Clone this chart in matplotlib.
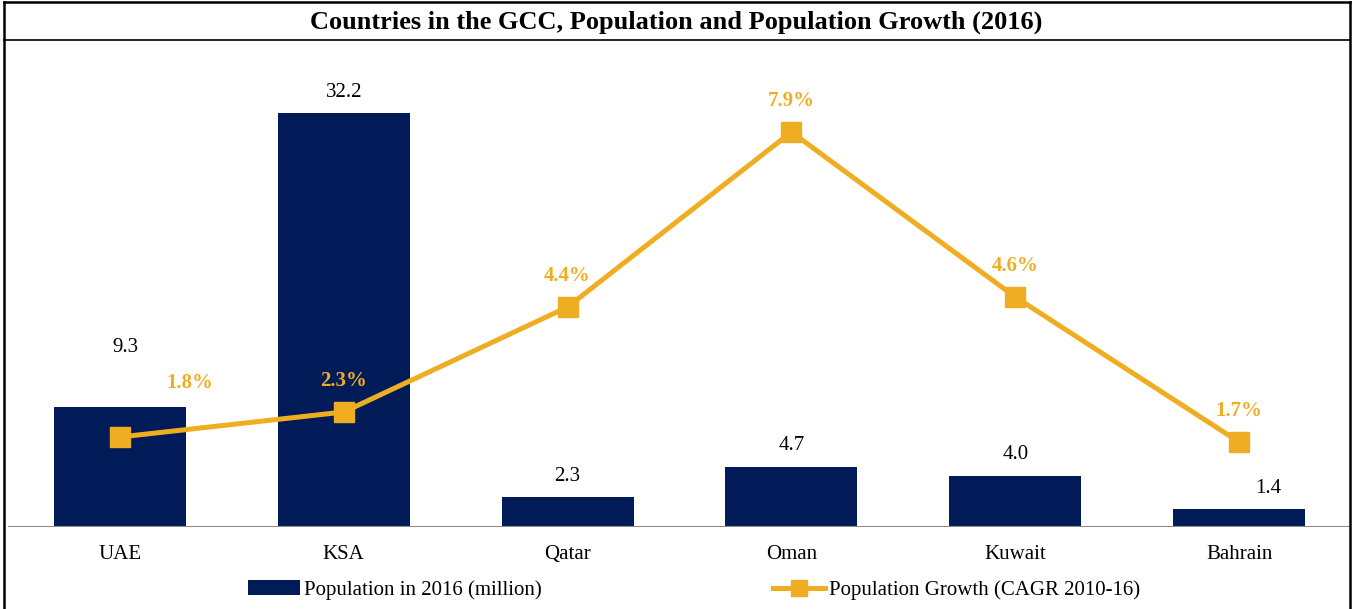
import matplotlib
matplotlib.use("Agg")
import matplotlib.pyplot as plt
from matplotlib.lines import Line2D

plt.rcParams['font.family'] = ['Liberation Serif', 'DejaVu Serif']

countries = ['UAE', 'KSA', 'Qatar', 'Oman', 'Kuwait', 'Bahrain']
population = [9.3, 32.2, 2.3, 4.7, 4.0, 1.4]
growth = [1.8, 2.3, 4.4, 7.9, 4.6, 1.7]

NAVY = '#001B58'
GOLD = '#EFAE22'
FS = 15

fig = plt.figure(figsize=(13.53, 6.09), dpi=100)
ax = fig.add_axes([8/1353, 1 - 527/609, 1343/1353, 487/609])
ax2 = ax.twinx()

x = list(range(len(countries)))
bars = ax.bar(x, population, width=0.59, color=NAVY, label='Population in 2016 (million)', zorder=2)
ln, = ax2.plot(x, growth, color=GOLD, lw=3.6, marker='s', ms=14, label='Population Growth (CAGR 2010-16)', zorder=3)

ax.set_xlim(-0.5, len(countries) - 0.5)
ax.set_ylim(0, 487 / 12.86)
ax2.set_ylim(0, 487 / 50.0)

for a in (ax, ax2):
    for s in a.spines.values():
        s.set_visible(False)
    a.set_yticks([])
ax.axhline(0, color='#8c8c8c', lw=1.5, zorder=4)
ax.set_xticks(x)
ax.set_xticklabels(countries, fontsize=FS)
ax.tick_params(axis='x', length=0, pad=13)

# bar value labels
for i, v in enumerate(population):
    dx, dy = 0, 15
    if i == 0:
        dx, dy = 4, 43
    if i == len(population) - 1:
        dx = 21
    ax.annotate(f'{v:.1f}', (i, v), xytext=(dx, dy), textcoords='offset points',
                ha='center', va='center', fontsize=FS, color='black')

# growth labels
for i, g in enumerate(growth):
    dx, dy = 0, 22
    if i == 0:
        dx, dy = 50, 39
    ax2.annotate(f'{g:.1f}%', (i, g), xytext=(dx, dy), textcoords='offset points',
                 ha='center', va='center', fontsize=FS, color=GOLD, fontweight='bold')

# frame and title row
fig.add_artist(Line2D([4/1353, 4/1353], [0, 1 - 2/609], transform=fig.transFigure, color='black', lw=1.8))
fig.add_artist(Line2D([1350/1353, 1350/1353], [0, 1 - 2/609], transform=fig.transFigure, color='black', lw=1.8))
fig.add_artist(Line2D([4/1353, 1350/1353], [1 - 2/609, 1 - 2/609], transform=fig.transFigure, color='black', lw=1.8))
fig.add_artist(Line2D([4/1353, 1350/1353], [1 - 40/609, 1 - 40/609], transform=fig.transFigure, color='black', lw=1.2))
fig.text(0.5, 1 - 22/609, 'Countries in the GCC, Population and Population Growth (2016)',
         ha='center', va='center', fontsize=19, fontweight='bold')

fig.legend([bars, ln], [bars.get_label(), ln.get_label()], loc='center',
           bbox_to_anchor=(694/1353, 1 - 590/609), ncol=2, frameon=False,
           fontsize=FS, handlelength=2.5, handletextpad=0.2, columnspacing=11.1,
           markerscale=0.8)

fig.savefig('out.png', dpi=100)
